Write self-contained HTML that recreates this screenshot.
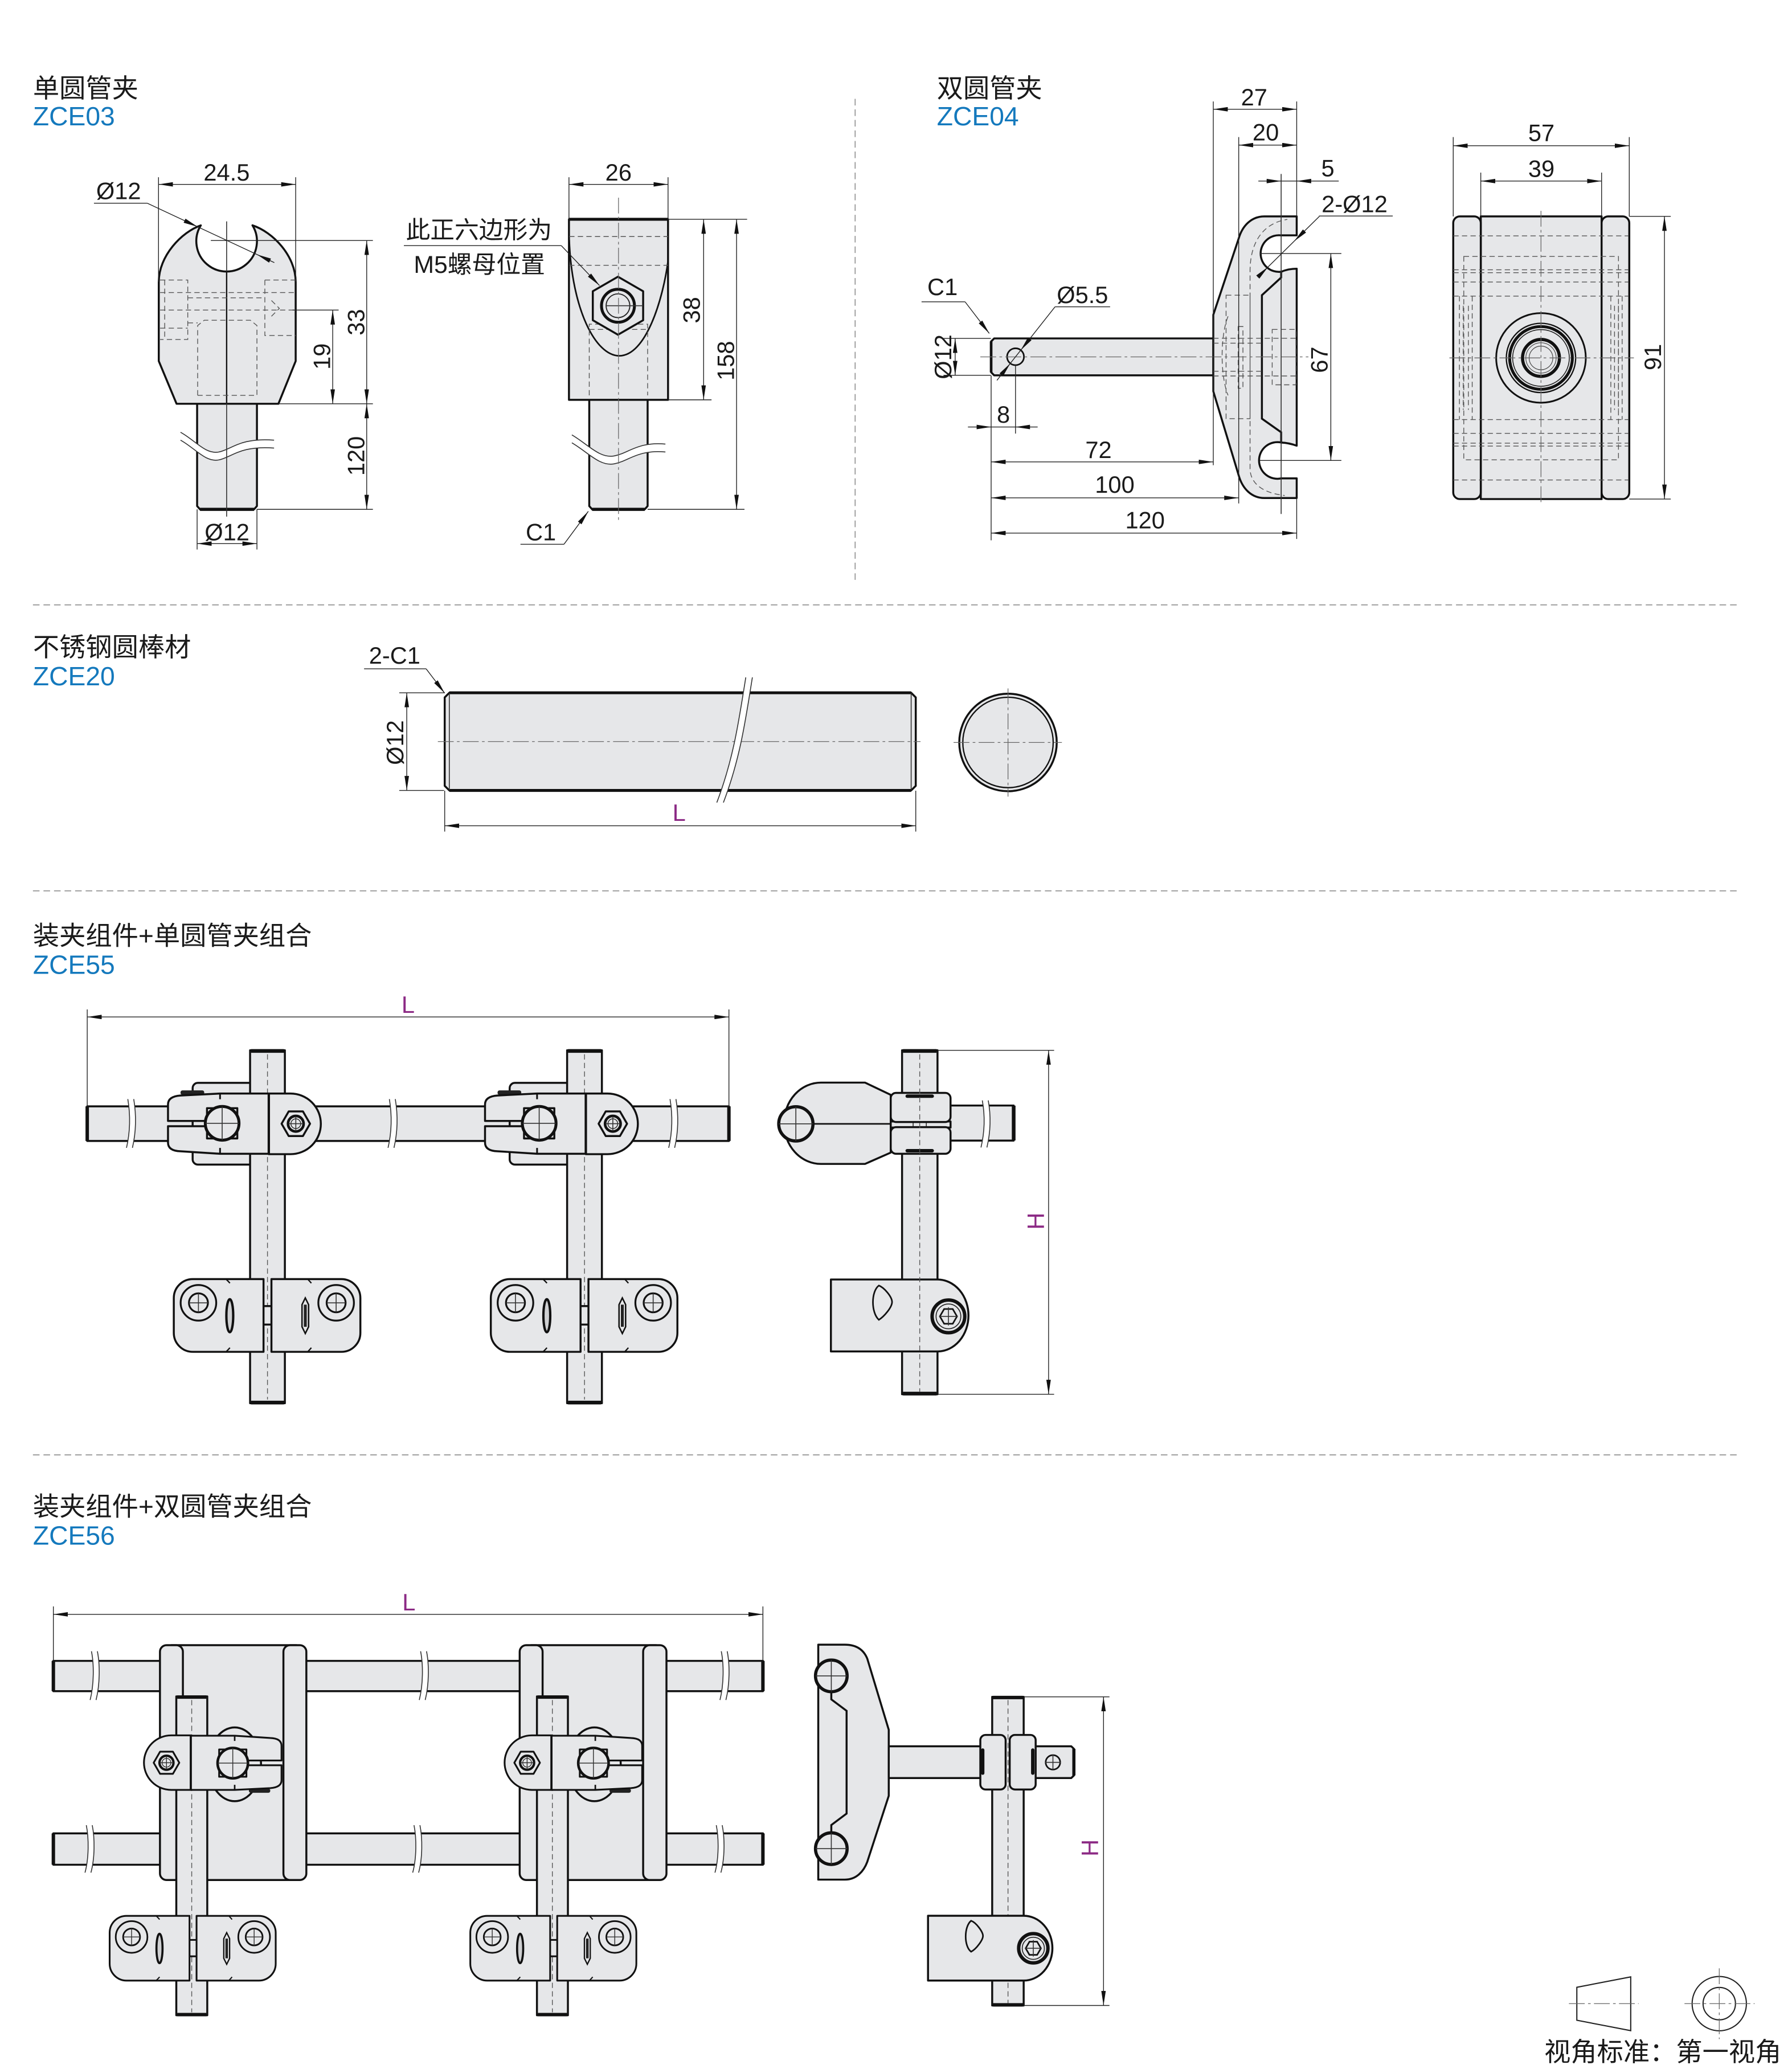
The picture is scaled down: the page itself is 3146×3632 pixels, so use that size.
<!DOCTYPE html>
<html><head><meta charset="utf-8">
<style>
html,body{margin:0;padding:0;background:#fff}
svg{display:block}
.o{fill:#e6e7e9;stroke:#111;stroke-width:1.5;stroke-linejoin:round}
.d{fill:none;stroke:#222;stroke-width:.6}
.h{fill:none;stroke:#555;stroke-width:.6;stroke-dasharray:4 2.5}
.c{fill:none;stroke:#666;stroke-width:.55;stroke-dasharray:12 2.5 2 2.5}
.k{fill:none;stroke:#111;stroke-width:1.5}
.s{fill:none;stroke:#333;stroke-width:.7}
.w{fill:#fff;stroke:none}
.sep{fill:none;stroke:#9a9a9a;stroke-width:.8;stroke-dasharray:5 3}
text{font-family:"Liberation Sans","Noto Sans CJK SC",sans-serif;fill:#1a1a1a}
.t{font-size:18px}
.ti{font-size:20px}
.b{fill:#1479bd}
.p{fill:#8c2a85}
.m{text-anchor:middle}
</style></head><body>
<svg xmlns="http://www.w3.org/2000/svg" width="3146" height="3632" viewBox="0 0 1360 1570" preserveAspectRatio="none">
<defs>
<marker id="ar" viewBox="0 0 11 3.4" refX="11" refY="1.7" markerWidth="11" markerHeight="3.4" markerUnits="userSpaceOnUse" orient="auto-start-reverse"><path d="M0,0L11,1.7L0,3.4Z" fill="#111"/></marker>
<g id="uc">
<rect x="-67" y="-25.2" width="18" height="3.4" rx="1.5" fill="#222"/>
<path class="o" d="M0,-22.8H-37L-67.1,-21.3Q-76.5,-20.6 -76.5,-14.6V-2H-45V2H-76.5V14.4Q-76.5,20.7 -67,21L-37,22.9H0Z"/>
<rect class="s" x="-45" y="-2" width="3" height="4" fill="#e6e7e9"/>
<path class="o" d="M0,-22.8H16.5A23,23 0 0 1 16.5,23.2H0Z"/>
<path d="M0,-22.8V23.2" stroke="#111" stroke-width="1.8"/>
<path d="M-37,-22.8V-18.5M-37,18.5V22.9" stroke="#111" stroke-width="1.3"/>
<rect class="o" x="-46.9" y="-11.7" width="23" height="23" stroke-width="1.2"/>
<circle cx="-35.4" cy="-0.2" r="12.8" fill="#e6e7e9" stroke="#111" stroke-width="2.2"/>
<path class="s" d="M-48,-0.2H-22.8M-35.4,-13V12.6" stroke-width=".5"/>
<polygon class="o" points="31.3,0.1 25.9,9.45 15.1,9.45 9.7,0.1 15.1,-9.25 25.9,-9.25" stroke-width="1.3"/>
<circle cx="20.5" cy="0.1" r="5.9" fill="none" stroke="#111" stroke-width="2"/>
<circle cx="20.5" cy="0.1" r="3.7" fill="none" stroke="#222" stroke-width=".6"/>
<path class="s" d="M15,0.1H26M20.5,-5.4V5.6" stroke-width=".4"/>
</g>
<g id="lc">
<rect class="o" x="-3.5" y="-7.1" width="7" height="14" stroke-width="1"/>
<path class="o" d="M-3,-27.6H-56.7A14.4,14.4 0 0 0 -71.1,-13.2V13.2A14.4,14.4 0 0 0 -56.7,27.6H-3Z"/>
<path class="o" d="M3,-27.6H56.1A14.4,14.4 0 0 1 70.5,-13.2V13.2A14.4,14.4 0 0 1 56.1,27.6H3Z"/>
<path d="M-31.5,-27.6Q-29.8,-26 -28.5,-24.5M-31.5,27.6Q-29.8,26 -28.5,24.5M30.5,-27.6Q32,-26 33.3,-24.5M30.5,27.6Q32,26 33.3,24.5" stroke="#111" stroke-width="1" fill="none"/>
<circle cx="-52.4" cy="-9.6" r="13.5" fill="none" stroke="#111" stroke-width="1.4"/>
<circle cx="-52.4" cy="-9.6" r="7.2" fill="none" stroke="#111" stroke-width="1.4"/>
<path class="s" d="M-59.6,-9.6H-45.2M-52.4,-16.8V-2.4" stroke-width=".5"/>
<circle cx="52.1" cy="-9.6" r="13.5" fill="none" stroke="#111" stroke-width="1.4"/>
<circle cx="52.1" cy="-9.6" r="7.2" fill="none" stroke="#111" stroke-width="1.4"/>
<path class="s" d="M44.9,-9.6H59.3M52.1,-16.8V-2.4" stroke-width=".5"/>
<ellipse cx="-28.6" cy="0.2" rx="2.6" ry="12.5" fill="#cfd0d2" stroke="#111" stroke-width="1.8"/>
<polygon points="28.7,-13.3 31.2,-8.2 31.2,8.6 28.7,13.7 26.2,8.6 26.2,-8.2" fill="#e6e7e9" stroke="#111" stroke-width="1.1"/>
<rect x="27.6" y="-8.2" width="2.2" height="16.8" fill="#222"/>
</g>
</defs>

<path class="sep" d="M649,75V440M25,459H1318M25,676H1318M25,1104H1318"/>

<text class="ti" x="25" y="74">单圆管夹</text>
<text class="ti b" x="25" y="95">ZCE03</text>
<text class="ti" x="711" y="74">双圆管夹</text>
<text class="ti b" x="711" y="95">ZCE04</text>
<text class="ti" x="25" y="498">不锈钢圆棒材</text>
<text class="ti b" x="25" y="520">ZCE20</text>
<text class="ti" x="25" y="717">装夹组件+单圆管夹组合</text>
<text class="ti b" x="25" y="739">ZCE55</text>
<text class="ti" x="25" y="1150">装夹组件+双圆管夹组合</text>
<text class="ti b" x="25" y="1172">ZCE56</text>

<!-- ZCE03 front -->
<path class="o" d="M149.6,306V384L151.8,386.5H192.8L195,384V306"/>
<path d="M151.8,386.5H192.8" stroke="#111" stroke-width="2.4"/>
<path class="w" d="M137,328C148,334 156,345 166,343C176,341 182,332 208,334L208,340C182,338 176,347 166,349C156,351 148,340 137,334Z"/>
<path class="s" d="M137,328C148,334 156,345 166,343C176,341 182,332 208,334M137,334C148,340 156,351 166,349C176,347 182,338 208,340"/>
<path class="o" d="M152.4,171C138,176 120.5,194 120.5,214V274L134,306.4H211.3L224.4,274V214C224.4,194 207,176 191.6,171A23,23 0 1 1 152.4,171Z"/>
<path d="M172,206V306.4" stroke="#111" stroke-width="1"/>
<path class="h" d="M121.5,212.5H142.5V257.6H121.5M125,212.5V257.6M121.5,222H224M121.5,235.3H224M121.5,249H142.5M142.5,226H201M142.5,245H150M201,212.5H224.4M201,212.5V254.6H224.4M206,228L212,234L206,240"/>
<path class="h" d="M150,300V247L155,243H190L195,247V300H150"/>
<path class="s" d="M172,168V206M172,306V392" stroke-width=".5"/>
<path class="d" d="M120.3,134.5V214M224.4,134.5V214"/>
<path class="d" d="M120.3,139.9H224.4" marker-start="url(#ar)" marker-end="url(#ar)"/>
<text class="t m" x="172" y="137">24.5</text>
<text class="t" x="73" y="151">Ø12</text>
<path class="d" d="M71.3,154.2H111.8"/>
<path class="d" d="M111.8,154.2L150,172.1" marker-end="url(#ar)"/>
<path class="d" d="M150,172.1L195,193.1"/>
<path class="d" d="M208.2,199.3L195,193.1" marker-end="url(#ar)"/>
<path class="d" d="M160,182.5H283M222,235.3H257M211.3,306.4H283M195,386.5H283"/>
<path class="d" d="M278.3,182.5V306.4" marker-start="url(#ar)" marker-end="url(#ar)"/>
<path class="d" d="M252.5,235.3V306.4" marker-start="url(#ar)" marker-end="url(#ar)"/>
<path class="d" d="M278.3,306.4V386.5" marker-start="url(#ar)" marker-end="url(#ar)"/>
<text class="t m" transform="translate(276.5,244.5) rotate(-90)">33</text>
<text class="t m" transform="translate(250.5,270.5) rotate(-90)">19</text>
<text class="t m" transform="translate(276.5,346) rotate(-90)">120</text>
<path class="d" d="M149.6,386.5V417M195,386.5V417"/>
<path class="d" d="M149.6,412.5H195" marker-start="url(#ar)" marker-end="url(#ar)"/>
<text class="t m" x="172.3" y="410">Ø12</text>

<!-- ZCE03 side -->
<path class="o" d="M447.2,303.4V384L449.4,386.5H489.3L491.5,384V303.4"/>
<path d="M449.4,386.5H489.3" stroke="#111" stroke-width="2.4"/>
<path class="w" d="M434,330C446,337 455,348 466,346C477,344 484,335 505,337L505,343C484,341 477,350 466,352C455,354 446,343 434,336Z"/>
<path class="s" d="M434,330C446,337 455,348 466,346C477,344 484,335 505,337M434,336C446,343 455,354 466,352C477,350 484,341 505,343"/>
<rect class="o" x="431.8" y="166.4" width="75.2" height="137"/>
<path d="M431.8,166.4H507" stroke="#111" stroke-width="2.2"/>
<path fill="none" stroke="#111" stroke-width="1.2" d="M432,182C434,235 452,270 470,270C490,270 503,228 507,198"/>
<path class="h" d="M432,179.5H507M432,201.3H507M447.2,300V246H491.5V300M447.2,250H491.5"/>
<polygon class="o" points="469,210 488.1,221 488.1,243 469,254 449.9,243 449.9,221" stroke-width="1.5"/>
<circle cx="469" cy="232" r="12.5" fill="none" stroke="#111" stroke-width="2.2"/>
<circle cx="469" cy="232" r="9" fill="none" stroke="#222" stroke-width=".8"/>
<path class="s" d="M460,232H488" stroke-width=".5"/>
<path class="c" d="M469.4,150V395"/>
<path class="d" d="M431.8,134.5V166.4M507,134.5V166.4"/>
<path class="d" d="M431.8,139.9H507" marker-start="url(#ar)" marker-end="url(#ar)"/>
<text class="t m" x="469.4" y="137">26</text>
<path class="d" d="M507,166.4H567M507,303.4H540M491.5,386.5H565"/>
<path class="d" d="M534,166.4V303.4" marker-start="url(#ar)" marker-end="url(#ar)"/>
<path class="d" d="M559,166.4V386.5" marker-start="url(#ar)" marker-end="url(#ar)"/>
<text class="t m" transform="translate(531,235.3) rotate(-90)">38</text>
<text class="t m" transform="translate(557,273.7) rotate(-90)">158</text>
<text x="308" y="181" style="font-size:18.5px">此正六边形为</text>
<text x="314" y="207" style="font-size:18.5px">M5螺母位置</text>
<path class="d" d="M306.5,186.4H426"/>
<path class="d" d="M426,186.4L455,216.7" marker-end="url(#ar)"/>
<text class="t" x="399" y="410">C1</text>
<path class="d" d="M395,413H428"/>
<path class="d" d="M428,413L446.5,388" marker-end="url(#ar)"/>

<!-- ZCE04 side -->
<path class="o" d="M920.8,256.8H754.5L752.2,259.1V282.5L754.5,284.8H920.8Z"/>
<path d="M752.2,259.1V282.5" stroke="#111" stroke-width="2"/>
<path class="o" d="M959.5,164.2H984.1V178.6H972.3A13.9,13.9 0 1 0 972.3,206.2Q978,203.9 984.1,203.9V338.2Q978,336 972.3,335.8A13.9,13.9 0 1 0 972.3,363H984.1V377.9H959.5C950,377.9 943,371 940.1,360.8L920.8,296.9V238.9L940.1,180.9C943,171 950,164.2 959.5,164.2Z"/>
<path class="k" d="M972.3,206.2V210.6L957.7,224V317.7L972.3,328V335.8"/>
<path class="h" d="M948.7,356V205C949,182 960,169 977,166.5M948.7,300V356C949,366 957,374 975,376M930.5,224H948.7V317.7H930.5ZM965.5,250H983.5V292H965.5ZM939.7,247.8H943.3V294.6H939.7ZM920.8,256.7H983.5M920.8,260.4H957.7M920.8,281.7H957.7M920.8,285.3H983.5M932,240C926,255 926,285 932,300"/>
<circle cx="770.7" cy="270.7" r="6.4" fill="none" stroke="#111" stroke-width="1.2"/>
<path class="c" d="M744,270.8H993"/>
<path class="s" d="M972.3,132V390" stroke-width=".45"/>
<path class="d" d="M920.8,77V353M984.1,77V164.2M940.1,104V382M752.2,285V410M770.7,277V329M984.1,377.9V409"/>
<path class="d" d="M920.8,82.9H984.1" marker-start="url(#ar)" marker-end="url(#ar)"/>
<text class="t m" x="951.8" y="80">27</text>
<path class="d" d="M940.1,110.1H984.1" marker-start="url(#ar)" marker-end="url(#ar)"/>
<text class="t m" x="960.6" y="106.5">20</text>
<path class="d" d="M955,137.4H972.3" marker-end="url(#ar)"/>
<path class="d" d="M972.3,137.4H984.1"/>
<path class="d" d="M1016,137.4H984.1" marker-end="url(#ar)"/>
<text class="t m" x="1007.7" y="133.7">5</text>
<text class="t" x="1003" y="161">2-Ø12</text>
<path class="d" d="M1001,163.9H1057"/>
<path class="d" d="M1001.3,164.2L982.2,183" marker-end="url(#ar)"/>
<path class="d" d="M982.2,183L962.4,202.5"/>
<path class="d" d="M954.5,210.3L962.4,202.5" marker-end="url(#ar)"/>
<path class="d" d="M956,192.4H1018M956,349.4H1018"/>
<path class="d" d="M1010,192.4V349.4" marker-start="url(#ar)" marker-end="url(#ar)"/>
<text class="t m" transform="translate(1007.5,273) rotate(-90)">67</text>
<text class="t" x="703.8" y="224">C1</text>
<path class="d" d="M699.4,229H732.4"/>
<path class="d" d="M732.4,229L750.8,253" marker-end="url(#ar)"/>
<text class="t" x="802" y="230">Ø5.5</text>
<path class="d" d="M800.7,232.8H842.5"/>
<path class="d" d="M800.7,232.8L774.7,265.7" marker-end="url(#ar)"/>
<path class="d" d="M774.7,265.7L766.7,275.8"/>
<path class="d" d="M756.6,288.6L766.7,275.8" marker-end="url(#ar)"/>
<path class="d" d="M716,256.8H752M716,284.8H752"/>
<path class="d" d="M724.9,256.8V284.8" marker-start="url(#ar)" marker-end="url(#ar)"/>
<text class="t m" transform="translate(722,270.8) rotate(-90)">Ø12</text>
<path class="d" d="M734.6,324H752.2" marker-end="url(#ar)"/>
<path class="d" d="M752.2,324H770.7"/>
<path class="d" d="M787.5,324H770.7" marker-end="url(#ar)"/>
<text class="t m" x="761.5" y="320.8">8</text>
<path class="d" d="M752.2,350.5H920.8" marker-start="url(#ar)" marker-end="url(#ar)"/>
<text class="t m" x="833.7" y="347.5">72</text>
<path class="d" d="M752.2,377.8H940.1" marker-start="url(#ar)" marker-end="url(#ar)"/>
<text class="t m" x="846" y="374">100</text>
<path class="d" d="M752.2,404.5H984.1" marker-start="url(#ar)" marker-end="url(#ar)"/>
<text class="t m" x="869" y="401">120</text>

<!-- ZCE04 front -->
<rect class="o" x="1123.8" y="164.2" width="91.7" height="214.5"/>
<rect class="o" x="1102.9" y="164.2" width="20.9" height="214.5" rx="5"/>
<rect class="o" x="1215.5" y="164.2" width="21" height="214.5" rx="5"/>
<path class="h" d="M1103,179H1236M1103,204.7H1236M1103,206.9H1236M1103,214H1236M1103,224.7H1236M1103,318.4H1236M1103,328.8H1236M1103,336.3H1236M1103,338.5H1236M1103,364.2H1236M1110.9,194.6H1228.3V348.9H1110.9Z"/>
<path class="h" d="M1107.6,224.7V318.4M1117.3,224.7V318.4M1110.5,232V311M1114.4,232V311M1222.5,224.7V318.4M1231.1,224.7V318.4M1225.3,232V311M1228.3,232V311"/>
<circle cx="1169.5" cy="271.6" r="34" fill="none" stroke="#111" stroke-width="1.3"/>
<circle cx="1169.5" cy="271.6" r="26.3" fill="none" stroke="#111" stroke-width="1"/>
<circle cx="1169.5" cy="271.6" r="23.8" fill="none" stroke="#111" stroke-width="2.2"/>
<circle cx="1169.5" cy="271.6" r="21.5" fill="none" stroke="#222" stroke-width=".7"/>
<circle cx="1169.5" cy="271.6" r="14" fill="none" stroke="#111" stroke-width="2.4"/>
<circle cx="1169.5" cy="271.6" r="11.5" fill="none" stroke="#444" stroke-width=".5"/>
<circle cx="1169.5" cy="271.6" r="9" fill="none" stroke="#444" stroke-width=".5"/>
<path class="c" d="M1169.5,160V383M1100,271.6H1240"/>
<path class="d" d="M1102.9,104V164.2M1236.5,104V164.2M1123.8,131V164.2M1215.5,131V164.2"/>
<path class="d" d="M1102.9,110.6H1236.5" marker-start="url(#ar)" marker-end="url(#ar)"/>
<text class="t m" x="1169.8" y="107">57</text>
<path class="d" d="M1123.8,137.4H1215.5" marker-start="url(#ar)" marker-end="url(#ar)"/>
<text class="t m" x="1169.8" y="134.2">39</text>
<path class="d" d="M1236.5,164.2H1268M1236.5,378.7H1268"/>
<path class="d" d="M1263.2,164.2V378.7" marker-start="url(#ar)" marker-end="url(#ar)"/>
<text class="t m" transform="translate(1260.5,271) rotate(-90)">91</text>

<!-- ZCE20 -->
<path class="o" d="M341,525.7H691.5L695,529.2V596.3L691.5,599.8H341L337.5,596.3V529.2Z"/>
<path d="M341,525.7H691.5M341,599.8H691.5" stroke="#111" stroke-width="2.2"/>
<path class="s" d="M341,526V599.5M691.5,526V599.5" stroke-width=".6"/>
<path class="c" d="M332.3,562.7H698.6"/>
<path class="w" d="M566,514C561,545 557,575 544,609L549,609C562,575 566,545 571,514Z"/>
<path class="s" d="M566,514C561,545 557,575 544,609M571,514C566,545 562,575 549,609"/>
<circle class="o" cx="765" cy="563.4" r="37"/>
<circle cx="765" cy="563.4" r="34.3" fill="none" stroke="#111" stroke-width="1"/>
<path class="c" d="M723.7,563.4H805.9M765,522.4V604.5"/>
<path class="d" d="M303,525.7H337M303,599.8H337"/>
<path class="d" d="M308.7,525.7V599.8" marker-start="url(#ar)" marker-end="url(#ar)"/>
<text class="t m" transform="translate(306,563.5) rotate(-90)">Ø12</text>
<text class="t" x="280" y="503.5">2-C1</text>
<path class="d" d="M276.3,507.5H323.4"/>
<path class="d" d="M323.4,507.5L337.5,526" marker-end="url(#ar)"/>
<path class="d" d="M337.5,600V631M695,600V631"/>
<path class="d" d="M337.5,626.6H695" marker-start="url(#ar)" marker-end="url(#ar)"/>
<text class="t m p" x="515.4" y="623">L</text>

<!-- ZCE55 front -->
<rect class="o" x="66.2" y="839.5" width="487" height="26.3"/>
<path d="M66.2,839.5V865.8M553.2,839.5V865.8" stroke="#111" stroke-width="2.6"/>
<path class="w" d="M97,834C99,846 99,858 96,871L100.5,871C103.5,858 103.5,846 101.5,834Z"/>
<path class="s" d="M97,834C99,846 99,858 96,871M101.5,834C103.5,846 103.5,858 100.5,871"/>
<path class="w" d="M295.5,834C297.5,846 297.5,858 294.5,871L299,871C302,858 302,846 300,834Z"/>
<path class="s" d="M295.5,834C297.5,846 297.5,858 294.5,871M300,834C302,846 302,858 299,871"/>
<path class="w" d="M508.5,834C510.5,846 510.5,858 507.5,871L512,871C515,858 515,846 513,834Z"/>
<path class="s" d="M508.5,834C510.5,846 510.5,858 507.5,871M513,834C515,846 515,858 512,871"/>
<rect class="o" x="146.2" y="821.7" width="50" height="62" rx="4"/>
<rect class="o" x="386.8" y="821.7" width="50" height="62" rx="4"/>
<rect class="o" x="189.8" y="797" width="26.4" height="267.8"/>
<rect class="o" x="430.4" y="797" width="26.4" height="267.8"/>
<path d="M190.5,797.5H215.5M190.5,1064.3H215.5M431.1,797.5H456.1M431.1,1064.3H456.1" stroke="#111" stroke-width="2.8"/>
<path class="h" d="M203,800V1062M443.6,800V1062" stroke-dasharray="8 3"/>
<use href="#uc" transform="translate(204,852.6)"/>
<use href="#uc" transform="translate(444.6,852.6)"/>
<use href="#lc" transform="translate(203,998.2)"/>
<use href="#lc" transform="translate(443.6,998.2)"/>
<path class="d" d="M66.2,766V839.5M553.2,766V839.5"/>
<path class="d" d="M66.2,771.7H553.2" marker-start="url(#ar)" marker-end="url(#ar)"/>
<text class="t m p" x="309.7" y="768.5">L</text>

<!-- ZCE55 side -->
<rect class="o" x="684.6" y="797" width="26.9" height="261"/>
<path d="M685.3,797.5H710.8M685.3,1057.5H710.8" stroke="#111" stroke-width="2.8"/>
<rect class="o" x="719" y="838.9" width="50.3" height="26.6"/>
<path d="M769.3,839V865.4" stroke="#111" stroke-width="2.8"/>
<path class="w" d="M745.5,835C747.5,846 747.5,858 744.5,870.7L749,870.7C752,858 752,846 750,835Z"/>
<path class="s" d="M745.5,835C747.5,846 747.5,858 744.5,870.7M750,835C752,846 752,858 749,870.7"/>
<path class="o" d="M676,830.8L656.5,821.5H623A28,30.85 0 0 0 623,883.2H656.5L676,874.6Z"/>
<path d="M617,852.8H676" stroke="#111" stroke-width="1.2"/>
<circle cx="604" cy="852.8" r="13" fill="#e6e7e9" stroke="#111" stroke-width="2.4"/>
<path class="s" d="M591,852.8H617M604,839.8V865.8" stroke-width=".5"/>
<rect class="o" x="676" y="851" width="45.4" height="4.6" stroke-width="1"/>
<rect class="s" x="693" y="851" width="10" height="4.6" fill="#e6e7e9"/>
<rect class="o" x="676" y="829.3" width="45.4" height="22.1" rx="4"/>
<rect class="o" x="676" y="855.3" width="45.4" height="20.2" rx="4"/>
<path d="M688.5,831.8H707.5M688.5,873.2H707.5" stroke="#111" stroke-width="2.6" stroke-linecap="round"/>
<path class="o" d="M630.6,970.9H711.5A23.5,27.3 0 0 1 711.5,1025.5H630.6Z"/>
<path fill="none" stroke="#111" stroke-width="1.2" d="M667,975.5C661,980 661,996 667,1001.5C671,999 677,992 677,988C677,984 671,977 667,975.5Z"/>
<circle cx="719.8" cy="998.9" r="12.4" fill="none" stroke="#111" stroke-width="2.6"/>
<circle cx="719.8" cy="998.9" r="9.4" fill="none" stroke="#222" stroke-width=".7"/>
<polygon points="726.3,998.9 723.05,1004.5 716.55,1004.5 713.3,998.9 716.55,993.3 723.05,993.3" fill="none" stroke="#111" stroke-width="1.2"/>
<path class="s" d="M713,998.9H726.6M719.8,992V1005.8" stroke-width=".5"/>
<path class="h" d="M698,800V1056" stroke-dasharray="8 3"/>
<path class="d" d="M711.5,797H800M711.5,1058H800"/>
<path class="d" d="M795.8,797V1058" marker-start="url(#ar)" marker-end="url(#ar)"/>
<text class="t m p" transform="translate(792.5,926.6) rotate(-90)">H</text>

<!-- ZCE56 front -->
<rect class="o" x="40.5" y="1260.3" width="538.5" height="23"/>
<rect class="o" x="40.5" y="1391.2" width="538.5" height="23.8"/>
<path d="M40.5,1260.3V1283.3M579,1260.3V1283.3M40.5,1391.2V1415M579,1391.2V1415" stroke="#111" stroke-width="2.6"/>
<path class="w" d="M69.4,1253C71.4,1263 71.4,1278 68.4,1290L72.9,1290C75.9,1278 75.9,1263 73.9,1253Z"/>
<path class="s" d="M69.4,1253C71.4,1263 71.4,1278 68.4,1290M73.9,1253C75.9,1263 75.9,1278 72.9,1290"/>
<path class="w" d="M319.2,1253C321.2,1263 321.2,1278 318.2,1290L322.7,1290C325.7,1278 325.7,1263 323.7,1253Z"/>
<path class="s" d="M319.2,1253C321.2,1263 321.2,1278 318.2,1290M323.7,1253C325.7,1263 325.7,1278 322.7,1290"/>
<path class="w" d="M547.4,1253C549.4,1263 549.4,1278 546.4,1290L550.9,1290C553.9,1278 553.9,1263 551.9,1253Z"/>
<path class="s" d="M547.4,1253C549.4,1263 549.4,1278 546.4,1290M551.9,1253C553.9,1263 553.9,1278 550.9,1290"/>
<path class="w" d="M65.5,1385C67.5,1395 67.5,1410 64.5,1421L69,1421C72,1410 72,1395 70,1385Z"/>
<path class="s" d="M65.5,1385C67.5,1395 67.5,1410 64.5,1421M70,1385C72,1395 72,1410 69,1421"/>
<path class="w" d="M314.2,1385C316.2,1395 316.2,1410 313.2,1421L317.7,1421C320.7,1410 320.7,1395 318.7,1385Z"/>
<path class="s" d="M314.2,1385C316.2,1395 316.2,1410 313.2,1421M318.7,1385C320.7,1395 320.7,1410 317.7,1421"/>
<path class="w" d="M543.6,1385C545.6,1395 545.6,1410 542.6,1421L547.1,1421C550.1,1410 550.1,1395 548.1,1385Z"/>
<path class="s" d="M543.6,1385C545.6,1395 545.6,1410 542.6,1421M548.1,1385C550.1,1395 550.1,1410 547.1,1421"/>
<rect class="o" x="130" y="1248.4" width="95" height="178.2"/>
<rect class="o" x="121.4" y="1248.4" width="17.4" height="178.2" rx="5"/>
<rect class="o" x="215.1" y="1248.4" width="17.4" height="178.2" rx="5"/>
<ellipse class="o" cx="178.1" cy="1338.8" rx="20" ry="28"/>
<rect class="o" x="133.8" y="1287.3" width="23.5" height="241.9"/>
<path d="M134.5,1287.8H156.6M134.5,1528.7H156.6" stroke="#111" stroke-width="2.6"/>
<path class="h" d="M145.5,1290V1527" stroke-dasharray="8 3"/>
<use href="#uc" transform="translate(144.8,1337.7) scale(-0.9,-0.9)"/>
<use href="#lc" transform="translate(146.5,1478.35) scale(0.89)"/>
<rect class="o" x="403" y="1248.4" width="95" height="178.2"/>
<rect class="o" x="394.4" y="1248.4" width="17.4" height="178.2" rx="5"/>
<rect class="o" x="488.1" y="1248.4" width="17.7" height="178.2" rx="5"/>
<ellipse class="o" cx="451.1" cy="1338.8" rx="20" ry="28"/>
<rect class="o" x="407.5" y="1287.3" width="23.5" height="241.9"/>
<path d="M408.2,1287.8H430.3M408.2,1528.7H430.3" stroke="#111" stroke-width="2.6"/>
<path class="h" d="M419.2,1290V1527" stroke-dasharray="8 3"/>
<use href="#uc" transform="translate(418.5,1337.7) scale(-0.9,-0.9)"/>
<use href="#lc" transform="translate(420.2,1478.35) scale(0.89)"/>
<path class="d" d="M40.5,1219V1260.3M579,1219V1260.3"/>
<path class="d" d="M40.5,1225H579" marker-start="url(#ar)" marker-end="url(#ar)"/>
<text class="t m p" x="310.3" y="1222">L</text>

<!-- ZCE56 side -->
<path class="o" d="M621,1248H641.2C650,1248 655.5,1252 658.2,1258.6L674.5,1312.6V1362.7L658.2,1412.8C655.5,1420 650,1426.3 641.2,1426.3H621Z"/>
<path class="k" d="M630.9,1283.7V1289.5L642.5,1298.2V1376.2L630.9,1384.9V1391"/>
<circle cx="630.9" cy="1271.7" r="12" fill="#e6e7e9" stroke="#111" stroke-width="2.4"/>
<circle cx="630.9" cy="1402.8" r="12" fill="#e6e7e9" stroke="#111" stroke-width="2.4"/>
<path class="s" d="M619,1271.7H643M630.9,1259.7V1283.7M619,1402.8H643M630.9,1390.8V1414.8" stroke-width=".5"/>
<rect class="o" x="674.5" y="1325.1" width="71" height="24.1"/>
<rect class="o" x="753" y="1287.6" width="23.9" height="234.2"/>
<path d="M753.7,1288.1H776.2M753.7,1521.3H776.2" stroke="#111" stroke-width="2.6"/>
<path class="h" d="M765,1290V1520" stroke-dasharray="8 3"/>
<path class="o" d="M786,1325.1H813L815,1327V1347.3L813,1349.2H786"/>
<path d="M815,1327V1347.3" stroke="#111" stroke-width="2.4"/>
<circle cx="799.1" cy="1337.3" r="5.5" fill="none" stroke="#111" stroke-width="1.2"/>
<path class="s" d="M793,1337.3H805.2M799.1,1331.2V1343.4" stroke-width=".5"/>
<rect class="o" x="744" y="1316.5" width="19.2" height="41.4" rx="4"/>
<rect class="o" x="766.3" y="1316.5" width="19.7" height="41.4" rx="4"/>
<path d="M745.8,1328V1345.5M783.8,1328V1345.5" stroke="#111" stroke-width="2.6" stroke-linecap="round"/>
<path class="o" d="M704.3,1453.7H776.9A21.8,24.6 0 0 1 776.9,1502.9H704.3Z"/>
<path fill="none" stroke="#111" stroke-width="1.2" d="M737,1457.5C731.5,1462 731.5,1477 737,1481C741,1479 746,1472 746,1469C746,1466 741,1459 737,1457.5Z"/>
<circle cx="784.2" cy="1478.4" r="11.1" fill="none" stroke="#111" stroke-width="2.6"/>
<circle cx="784.2" cy="1478.4" r="8.4" fill="none" stroke="#222" stroke-width=".7"/>
<polygon points="790,1478.4 787.1,1483.4 781.3,1483.4 778.4,1478.4 781.3,1473.4 787.1,1473.4" fill="none" stroke="#111" stroke-width="1.2"/>
<path class="s" d="M778,1478.4H790.4M784.2,1472.2V1484.6" stroke-width=".5"/>
<path class="d" d="M776.9,1287.6H842M776.9,1521.8H842"/>
<path class="d" d="M837.5,1287.6V1521.8" marker-start="url(#ar)" marker-end="url(#ar)"/>
<text class="t m p" transform="translate(833.5,1402.2) rotate(-90)">H</text>

<!-- legend -->
<polygon points="1196.7,1508 1237.6,1500.1 1237.6,1540.9 1196.7,1533" fill="none" stroke="#222" stroke-width=".9"/>
<path class="c" d="M1190.7,1520.4H1243.6" stroke="#222"/>
<circle cx="1304.8" cy="1520.4" r="20.6" fill="none" stroke="#222" stroke-width=".9"/>
<circle cx="1304.8" cy="1520.4" r="12.3" fill="none" stroke="#222" stroke-width=".9"/>
<path class="c" d="M1278.4,1520.4H1331.6M1304.8,1493.6V1547.3" stroke="#222"/>
<text x="1172" y="1564" style="font-size:20px">视角标准：第一视角</text>
</svg>
</body></html>
